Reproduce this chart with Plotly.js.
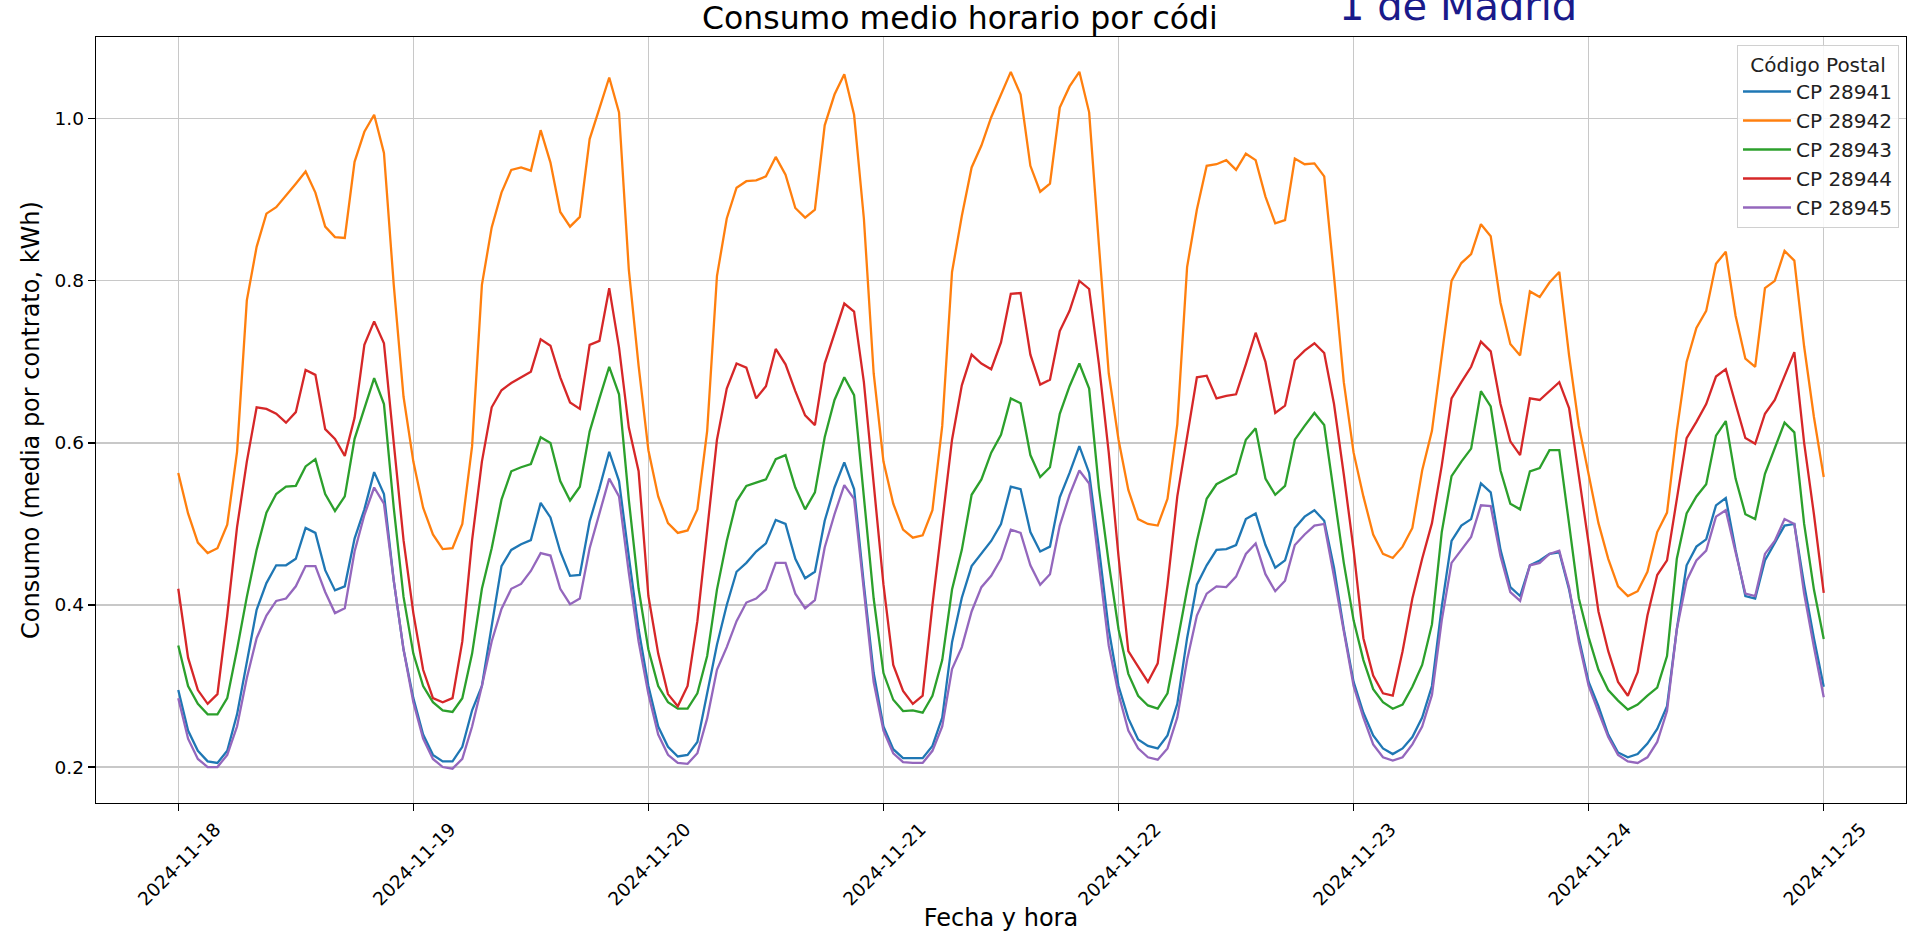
<!DOCTYPE html>
<html>
<head>
<meta charset="utf-8">
<script src="https://cdn.plot.ly/plotly-3.0.1.min.js"></script>
<style>html,body{margin:0;padding:0;background:#fff;overflow:hidden}#chart{width:1921px;height:932px}</style>
</head>
<body>
<div id="chart"></div>
<script>
// Hourly timestamps 2024-11-18 00:00 .. 2024-11-25 00:00 (169 points)
const startDate = '2024-11-18';
const nHours = 169;

const seriesNames = ['CP 28941', 'CP 28942', 'CP 28943', 'CP 28944', 'CP 28945'];
const seriesColors = ['#1f77b4', '#ff7f0e', '#2ca02c', '#d62728', '#9467bd'];

const cp28942 = [
  0.563,0.513,0.477,0.464,0.470,0.499,0.589,0.776,0.842,0.883,0.891,0.905,0.920,0.935,0.909,0.867,0.854,0.853,0.947,0.984,1.005,0.958,0.795,0.657,
  0.577,0.520,0.487,0.469,0.470,0.500,0.596,0.795,0.866,0.909,0.937,0.940,0.936,0.986,0.946,0.885,0.867,0.879,0.975,1.013,1.051,1.008,0.814,0.695,
  0.591,0.534,0.501,0.489,0.492,0.518,0.615,0.806,0.877,0.915,0.923,0.924,0.929,0.953,0.931,0.890,0.878,0.888,0.992,1.030,1.055,1.005,0.877,0.686,
  0.577,0.525,0.493,0.483,0.486,0.517,0.621,0.811,0.880,0.940,0.967,1.002,1.030,1.058,1.030,0.942,0.910,0.920,1.014,1.040,1.058,1.008,0.844,0.686,
  0.604,0.542,0.506,0.500,0.498,0.531,0.623,0.817,0.888,0.942,0.944,0.949,0.937,0.957,0.949,0.904,0.871,0.875,0.951,0.944,0.945,0.929,0.806,0.675,
  0.588,0.534,0.487,0.463,0.458,0.472,0.495,0.566,0.615,0.708,0.800,0.822,0.833,0.870,0.855,0.773,0.722,0.708,0.787,0.780,0.798,0.811,0.708,0.621,
  0.561,0.501,0.457,0.423,0.411,0.417,0.441,0.490,0.514,0.615,0.700,0.742,0.763,0.821,0.836,0.757,0.704,0.694,0.791,0.800,0.837,0.825,0.719,0.632,
  0.558];

const cp28944 = [
  0.420,0.335,0.295,0.278,0.290,0.387,0.496,0.577,0.644,0.642,0.636,0.625,0.638,0.690,0.684,0.617,0.605,0.584,0.631,0.721,0.750,0.723,0.600,0.480,
  0.390,0.320,0.285,0.280,0.285,0.355,0.480,0.577,0.644,0.665,0.674,0.681,0.688,0.728,0.720,0.681,0.650,0.642,0.721,0.726,0.791,0.718,0.619,0.565,
  0.411,0.340,0.290,0.275,0.300,0.380,0.490,0.604,0.667,0.698,0.693,0.655,0.670,0.716,0.697,0.664,0.634,0.622,0.698,0.735,0.772,0.762,0.675,0.550,
  0.425,0.326,0.294,0.278,0.288,0.400,0.500,0.604,0.671,0.709,0.698,0.691,0.724,0.784,0.785,0.709,0.672,0.678,0.738,0.763,0.800,0.790,0.697,0.588,
  0.460,0.343,0.324,0.305,0.328,0.425,0.534,0.610,0.681,0.683,0.655,0.658,0.660,0.697,0.736,0.700,0.637,0.646,0.702,0.714,0.723,0.711,0.648,0.561,
  0.468,0.359,0.313,0.291,0.288,0.343,0.408,0.457,0.501,0.572,0.655,0.675,0.694,0.725,0.713,0.648,0.602,0.585,0.655,0.653,0.664,0.675,0.643,0.561,
  0.479,0.392,0.343,0.305,0.288,0.317,0.387,0.437,0.455,0.528,0.606,0.626,0.648,0.682,0.691,0.648,0.606,0.599,0.636,0.653,0.683,0.712,0.600,0.512,
  0.415];

const cp28943 = [
  0.350,0.300,0.278,0.265,0.265,0.285,0.345,0.410,0.468,0.514,0.537,0.546,0.547,0.571,0.580,0.537,0.516,0.534,0.605,0.643,0.680,0.648,0.520,0.410,
  0.340,0.300,0.280,0.270,0.268,0.285,0.340,0.420,0.470,0.530,0.565,0.570,0.574,0.607,0.600,0.553,0.529,0.546,0.614,0.655,0.694,0.660,0.530,0.420,
  0.345,0.300,0.280,0.272,0.272,0.291,0.337,0.419,0.479,0.528,0.547,0.551,0.555,0.580,0.585,0.545,0.518,0.539,0.607,0.653,0.681,0.659,0.534,0.408,
  0.316,0.283,0.269,0.270,0.267,0.288,0.332,0.419,0.468,0.536,0.555,0.588,0.610,0.655,0.649,0.585,0.558,0.570,0.636,0.670,0.698,0.667,0.544,0.452,
  0.370,0.315,0.288,0.276,0.272,0.291,0.354,0.419,0.479,0.531,0.549,0.556,0.562,0.604,0.618,0.556,0.536,0.547,0.604,0.621,0.637,0.622,0.534,0.452,
  0.381,0.332,0.296,0.280,0.272,0.277,0.299,0.326,0.376,0.490,0.559,0.577,0.593,0.664,0.645,0.566,0.525,0.518,0.565,0.569,0.591,0.591,0.500,0.408,
  0.360,0.320,0.295,0.282,0.271,0.277,0.288,0.298,0.337,0.457,0.513,0.534,0.549,0.609,0.627,0.556,0.512,0.506,0.562,0.593,0.625,0.613,0.500,0.419,
  0.358];

const cp28941 = [
  0.295,0.245,0.220,0.207,0.205,0.220,0.265,0.330,0.394,0.427,0.449,0.449,0.457,0.495,0.489,0.443,0.418,0.423,0.482,0.518,0.564,0.537,0.430,0.345,
  0.285,0.240,0.215,0.207,0.207,0.225,0.270,0.300,0.375,0.448,0.468,0.475,0.480,0.526,0.508,0.466,0.436,0.437,0.503,0.544,0.589,0.553,0.460,0.370,
  0.300,0.250,0.225,0.213,0.215,0.231,0.291,0.351,0.400,0.441,0.452,0.466,0.476,0.505,0.500,0.457,0.433,0.441,0.504,0.545,0.576,0.543,0.425,0.316,
  0.250,0.222,0.211,0.211,0.211,0.226,0.261,0.354,0.409,0.448,0.463,0.479,0.500,0.546,0.543,0.490,0.466,0.472,0.533,0.563,0.596,0.563,0.470,0.370,
  0.300,0.260,0.234,0.226,0.223,0.239,0.278,0.359,0.425,0.449,0.468,0.469,0.474,0.506,0.513,0.474,0.446,0.455,0.495,0.509,0.517,0.504,0.446,0.370,
  0.305,0.267,0.239,0.223,0.216,0.223,0.237,0.261,0.300,0.398,0.479,0.498,0.506,0.550,0.539,0.468,0.422,0.411,0.449,0.455,0.463,0.465,0.419,0.359,
  0.305,0.275,0.240,0.218,0.212,0.216,0.229,0.247,0.275,0.370,0.449,0.472,0.481,0.523,0.532,0.468,0.411,0.408,0.455,0.476,0.498,0.500,0.425,0.359,
  0.299];

const cp28945 = [
  0.285,0.235,0.210,0.200,0.200,0.215,0.250,0.310,0.359,0.387,0.405,0.408,0.423,0.448,0.448,0.416,0.390,0.396,0.466,0.511,0.545,0.525,0.430,0.345,
  0.280,0.235,0.210,0.200,0.198,0.210,0.250,0.300,0.355,0.395,0.420,0.426,0.442,0.464,0.461,0.420,0.401,0.408,0.470,0.513,0.556,0.534,0.440,0.355,
  0.290,0.240,0.215,0.205,0.204,0.217,0.260,0.320,0.348,0.380,0.403,0.408,0.419,0.452,0.452,0.414,0.396,0.406,0.471,0.512,0.548,0.531,0.414,0.305,
  0.245,0.217,0.206,0.205,0.205,0.220,0.250,0.321,0.348,0.392,0.422,0.436,0.457,0.493,0.489,0.449,0.425,0.438,0.498,0.536,0.566,0.550,0.450,0.350,
  0.290,0.245,0.223,0.212,0.209,0.223,0.261,0.332,0.387,0.414,0.423,0.422,0.435,0.463,0.476,0.438,0.417,0.430,0.474,0.487,0.498,0.500,0.435,0.365,
  0.300,0.261,0.228,0.212,0.208,0.212,0.228,0.250,0.289,0.381,0.452,0.468,0.484,0.523,0.522,0.460,0.416,0.405,0.449,0.452,0.463,0.467,0.422,0.354,
  0.300,0.268,0.237,0.215,0.207,0.205,0.212,0.231,0.269,0.370,0.430,0.455,0.467,0.509,0.517,0.465,0.414,0.411,0.463,0.479,0.506,0.500,0.414,0.348,
  0.286];

const yTickVals = [0.2, 0.4, 0.6, 0.8, 1.0];
const yTickText = ['0.2', '0.4', '0.6', '0.8', '1.0'];
const xTickVals = ['2024-11-18','2024-11-19','2024-11-20','2024-11-21','2024-11-22','2024-11-23','2024-11-24','2024-11-25'];

// timestamps
const t0 = Date.parse(startDate + 'T00:00:00Z');
const times = [];
for (let i = 0; i < nHours; i++) {
  times.push(new Date(t0 + i * 3600000).toISOString().slice(0, 19).replace('T', ' '));
}

const allSeries = [cp28941, cp28942, cp28943, cp28944, cp28945];
const traces = allSeries.map((vals, i) => ({
  type: 'scatter', mode: 'lines', x: times, y: vals, name: seriesNames[i],
  line: {color: seriesColors[i], width: 2.3}, hoverinfo: 'skip'
}));

const W = 1921, H = 932;
const mL = 96, mR = 15, mT = 37, mB = 129;
const pw = W - mL - mR, ph = H - mT - mB;
const px = v => (v - mL) / pw;
const py = v => (H - mB - v) / ph;

const font = 'DejaVu Sans, Liberation Sans, sans-serif';

const layout = {
  width: W, height: H,
  margin: {l: mL, r: mR, t: mT, b: mB, pad: 0},
  paper_bgcolor: '#fff', plot_bgcolor: '#fff',
  font: {family: font, color: '#000'},
  showlegend: true,
  title: {
    text: 'Consumo medio horario por códi',
    font: {family: font, size: 31.5, color: '#000'},
    xref: 'container', yref: 'container',
    x: 702 / W, xanchor: 'left',
    y: 1 - 18 / H, yanchor: 'middle'
  },
  xaxis: {
    type: 'date',
    range: ['2024-11-17 15:36', '2024-11-25 08:24'],
    tickvals: xTickVals, tickformat: '%Y-%m-%d',
    tickangle: -45, ticklabelshift: 37,
    tickfont: {family: font, size: 18.5, color: '#000'},
    ticks: 'outside', ticklen: 7, tickwidth: 1.2, tickcolor: '#000',
    showgrid: true, gridcolor: '#c8c8c8', gridwidth: 1.2,
    showline: true, linecolor: '#000', linewidth: 1.3, mirror: true,
    zeroline: false, automargin: false,
    title: {text: 'Fecha y hora', font: {family: font, size: 24, color: '#000'}, standoff: 8}
  },
  yaxis: {
    range: [0.1556, 1.101],
    tickvals: yTickVals, ticktext: yTickText,
    tickfont: {family: font, size: 18.5, color: '#000'},
    ticks: 'outside', ticklen: 7, tickwidth: 1.2, tickcolor: '#000',
    showgrid: true, gridcolor: '#c8c8c8', gridwidth: 1.2,
    showline: true, linecolor: '#000', linewidth: 1.3, mirror: true,
    zeroline: false, automargin: false,
    title: {text: 'Consumo (media por contrato, kWh)', font: {family: font, size: 24, color: '#000'}, standoff: 8}
  },
  legend: {
    x: px(1899), xanchor: 'right', y: py(45), yanchor: 'top',
    bgcolor: 'rgba(255,255,255,0.85)', bordercolor: '#d0d0d0', borderwidth: 1,
    font: {family: font, size: 20, color: '#222'},
    title: {text: 'Código Postal', side: 'top center', font: {family: font, size: 20, color: '#222'}},
    tracegroupgap: 0, itemwidth: 48
  },
  annotations: [{
    xref: 'paper', yref: 'paper',
    x: px(1337), xanchor: 'left',
    y: py(31), yanchor: 'bottom',
    text: '1 de Madrid', showarrow: false,
    font: {family: font, size: 40, color: '#1a1a8a'}
  }]
};

Plotly.newPlot('chart', traces, layout, {displayModeBar: false, staticPlot: true});
</script>
</body>
</html>
